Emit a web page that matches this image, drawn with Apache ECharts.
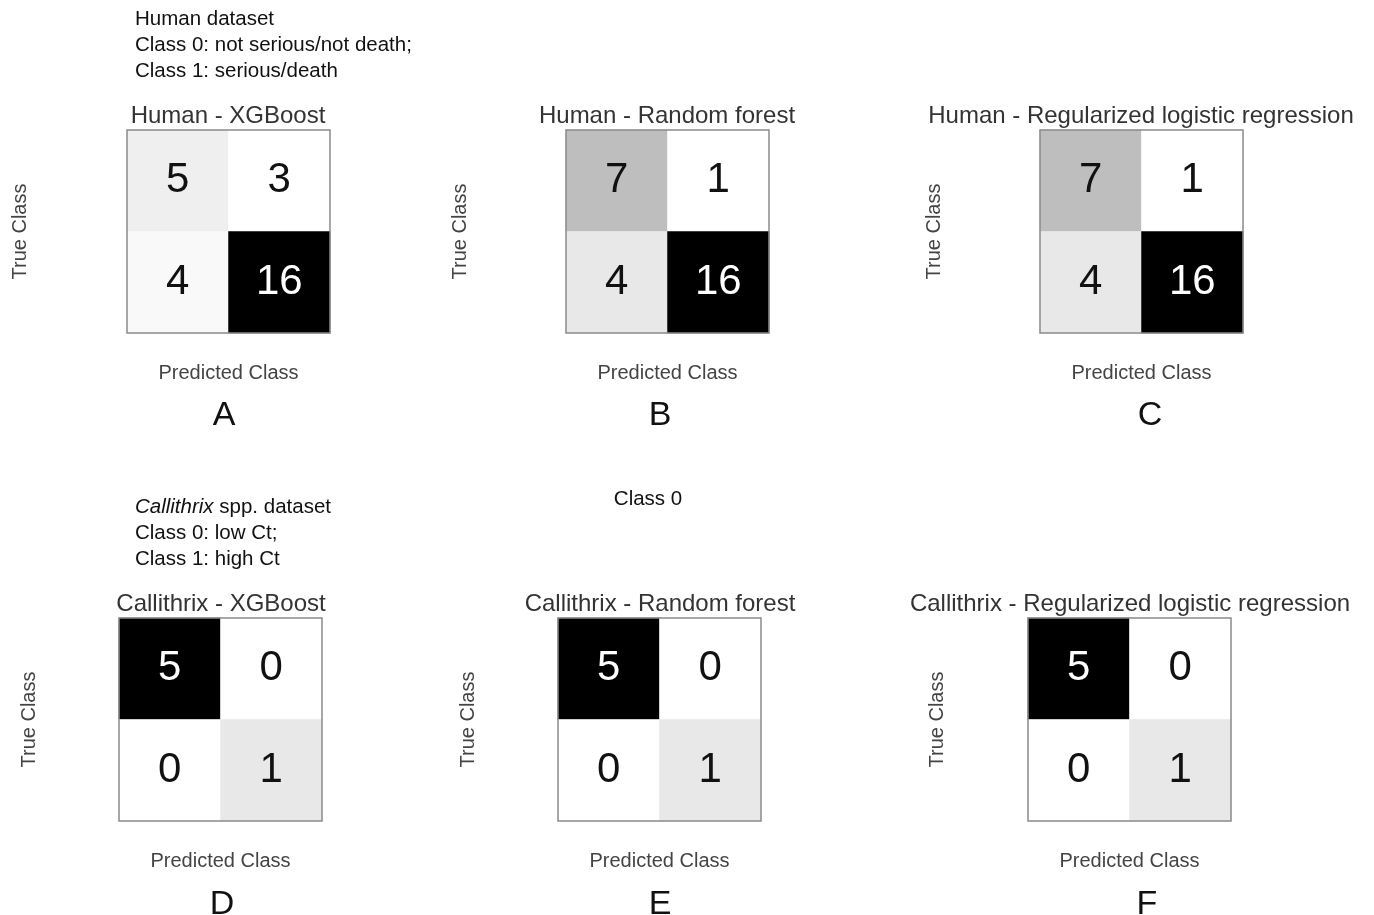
<!DOCTYPE html>
<html>
<head>
<meta charset="utf-8">
<script src="https://cdn.jsdelivr.net/npm/echarts@6/dist/echarts.min.js"></script>
<style>
  html, body { margin: 0; padding: 0; background: #fff; }
  #chart { width: 1374px; height: 915px; }
</style>
</head>
<body>
<div id="chart"></div>
<script>
// confusion matrices, rows = true class, cols = predicted class
const classes = ['0', '1']
const humanXGBoost = [[5, 3], [4, 16]]
const humanRandomForest = [[7, 1], [4, 16]]
const humanLogistic = [[7, 1], [4, 16]]
const callithrixXGBoost = [[5, 0], [0, 1]]
const callithrixRandomForest = [[5, 0], [0, 1]]
const callithrixLogistic = [[5, 0], [0, 1]]

const matrices = [
  humanXGBoost, humanRandomForest, humanLogistic,
  callithrixXGBoost, callithrixRandomForest, callithrixLogistic,
]
const panelTitles = [
  'Human - XGBoost',
  'Human - Random forest',
  'Human - Regularized logistic regression',
  'Callithrix - XGBoost',
  'Callithrix - Random forest',
  'Callithrix - Regularized logistic regression',
]
const panelLetters = ['A', 'B', 'C', 'D', 'E', 'F']

// box layout (px) for each panel
const boxes = [
  { left: 127, top: 130, size: 203, titleX: 228, letterX: 224, letterGap: 83, nameGapY: 97 },
  { left: 566, top: 130, size: 203, titleX: 667, letterX: 660, letterGap: 83, nameGapY: 96 },
  { left: 1040, top: 130, size: 203, titleX: 1141, letterX: 1150, letterGap: 83, nameGapY: 96 },
  { left: 119, top: 618, size: 203, titleX: 221, letterX: 222, letterGap: 84, nameGapY: 80 },
  { left: 558, top: 618, size: 203, titleX: 660, letterX: 660, letterGap: 84, nameGapY: 80 },
  { left: 1028, top: 618, size: 203, titleX: 1130, letterX: 1147, letterGap: 84, nameGapY: 81 },
]

const font = '"Liberation Sans", Arial, sans-serif'
const GAMMA = 1.5

// grey ramp, white -> black, darkened with a gamma curve
const greyRamp = []
for (let i = 0; i <= 20; i++) {
  const t = i / 20
  const g = Math.round(255 * (1 - Math.pow(t, GAMMA)))
  greyRamp.push(`rgb(${g},${g},${g})`)
}

const grids = []
const xAxes = []
const yAxes = []
const series = []
const visualMaps = []
const graphics = []

matrices.forEach((m, i) => {
  const b = boxes[i]
  const flat = m.flat()
  const vMin = Math.min(...flat)
  const vMax = Math.max(...flat)
  const data = []
  m.forEach((row, r) => {
    row.forEach((v, c) => {
      const t = vMax === vMin ? 0 : Math.pow((v - vMin) / (vMax - vMin), GAMMA)
      data.push({ value: [c, r, v], label: { color: t > 0.5 ? '#fff' : '#111' } })
    })
  })

  grids.push({
    left: b.left, top: b.top, width: b.size, height: b.size,
    show: true, z: 5, backgroundColor: 'transparent',
    borderColor: '#8a8a8a', borderWidth: 1.5,
  })
  xAxes.push({
    type: 'category', gridIndex: i, data: classes,
    name: 'Predicted Class', nameLocation: 'middle', nameGap: 30,
    nameTextStyle: { color: '#444', fontSize: 20, fontFamily: font },
    axisLine: { show: false }, axisTick: { show: false }, axisLabel: { show: false },
    splitLine: { show: false },
  })
  yAxes.push({
    type: 'category', gridIndex: i, data: classes, inverse: true,
    name: 'True Class', nameLocation: 'middle', nameGap: b.nameGapY,
    nameTextStyle: { color: '#444', fontSize: 20, fontFamily: font },
    axisLine: { show: false }, axisTick: { show: false }, axisLabel: { show: false },
    splitLine: { show: false },
  })
  series.push({
    type: 'heatmap', xAxisIndex: i, yAxisIndex: i, data,
    label: {
      show: true, fontSize: 42, fontFamily: font,
      formatter: p => p.value[2],
    },
    emphasis: { disabled: true },
  })
  visualMaps.push({
    type: 'continuous', show: false, seriesIndex: i, dimension: 2,
    min: vMin, max: vMax, inRange: { color: greyRamp },
  })

  graphics.push({
    type: 'text', x: b.titleX, y: b.top - 14,
    style: {
      text: panelTitles[i], fill: '#333', font: `24px ${font}`,
      textAlign: 'center', textVerticalAlign: 'middle',
    },
  })
  graphics.push({
    type: 'text', x: b.letterX, y: b.top + b.size + b.letterGap,
    style: {
      text: panelLetters[i], fill: '#111', font: `34px ${font}`,
      textAlign: 'center', textVerticalAlign: 'middle',
    },
  })
})

// dataset notes
graphics.push({
  type: 'text', x: 135, y: 6,
  style: {
    text: 'Human dataset\nClass 0: not serious/not death;\nClass 1: serious/death',
    fill: '#111', font: `20.5px ${font}`, lineHeight: 26, textAlign: 'left',
  },
})
graphics.push({
  type: 'text', x: 135, y: 494,
  style: {
    text: '{i|Callithrix} spp. dataset\nClass 0: low Ct;\nClass 1: high Ct',
    fill: '#111', font: `20.5px ${font}`, lineHeight: 26, textAlign: 'left',
    rich: { i: { fontStyle: 'italic', fontSize: 20.5, fontFamily: font, fill: '#111' } },
  },
})
graphics.push({
  type: 'text', x: 648, y: 499,
  style: {
    text: 'Class 0', fill: '#111', font: `20.5px ${font}`,
    textAlign: 'center', textVerticalAlign: 'middle',
  },
})

const chart = echarts.init(document.getElementById('chart'))
chart.setOption({
  backgroundColor: '#fff',
  animation: false,
  grid: grids,
  xAxis: xAxes,
  yAxis: yAxes,
  visualMap: visualMaps,
  series,
  graphic: graphics,
})
</script>
</body>
</html>
